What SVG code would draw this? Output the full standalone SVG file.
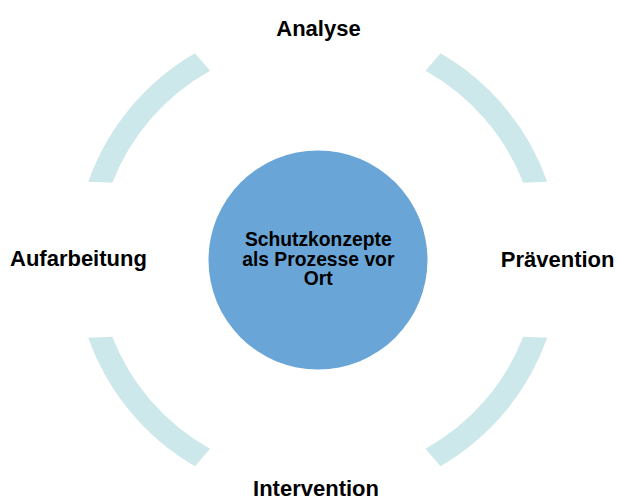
<svg xmlns="http://www.w3.org/2000/svg" width="617" height="500" viewBox="0 0 617 500">
  <style>
    .arc { fill: #CDE8EA; stroke: none; }
    .hub { fill: #69A5D6; }
    .lbl { font-family: "Liberation Sans", Arial, sans-serif; font-weight: bold; font-size: 22px; fill: #000; }
    .ctr { font-family: "Liberation Sans", Arial, sans-serif; font-weight: bold; font-size: 19.3px; fill: #000; text-anchor: middle; }
  </style>
  <rect width="617" height="500" fill="#FFFFFF"/>
  <g id="connectors">
    <path class="arc" d="M 195,53.3 A 241.5 241.5 0 0 0 88.3,181.7 L 112.3,182.7 A 219 219 0 0 1 210,70.7 Z"/>
    <path class="arc" d="M 440.5,53.3 A 241.5 241.5 0 0 1 547.2,181.7 L 523.2,182.7 A 219 219 0 0 0 425.5,70.7 Z"/>
    <path class="arc" d="M 195,466.2 A 241.5 241.5 0 0 1 88.3,337.8 L 112.3,336.8 A 219 219 0 0 0 210,448.8 Z"/>
    <path class="arc" d="M 440.5,466.2 A 241.5 241.5 0 0 0 547.2,337.8 L 523.2,336.8 A 219 219 0 0 1 425.5,448.8 Z"/>
  </g>
  <g id="center">
    <circle class="hub" cx="318" cy="260" r="109.5"/>
    <text class="ctr" x="318.3" y="246">Schutzkonzepte</text>
    <text class="ctr" x="318.3" y="265.7">als Prozesse vor</text>
    <text class="ctr" x="318.3" y="285.2">Ort</text>
  </g>
  <g id="analyse">
    <text class="lbl" x="318.5" y="36" text-anchor="middle">Analyse</text>
  </g>
  <g id="praevention">
    <text class="lbl" x="614.5" y="266.5" text-anchor="end">Prävention</text>
  </g>
  <g id="intervention">
    <text class="lbl" x="316" y="495.5" text-anchor="middle">Intervention</text>
  </g>
  <g id="aufarbeitung">
    <text class="lbl" x="10" y="266">Aufarbeitung</text>
  </g>
</svg>
